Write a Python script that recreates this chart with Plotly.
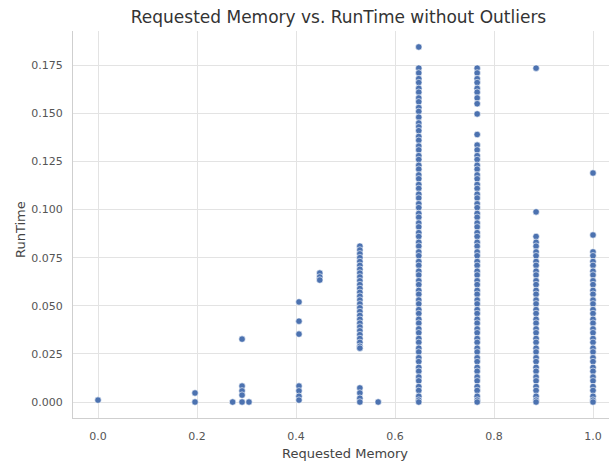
import plotly.graph_objects as go

# Requested memory levels (x) and the runtimes observed at each level (y)
mem_000 = [0.0]
rt_000 = [0.001]

mem_019 = [0.196, 0.196]
rt_019 = [0.0047, 0.0]

mem_027 = [0.272]
rt_027 = [0.0]

mem_029 = [0.291, 0.291, 0.291, 0.291, 0.291]
rt_029 = [0.0327, 0.0083, 0.0058, 0.0036, 0.0]

mem_031 = [0.305]
rt_031 = [0.0]

mem_041 = [0.406] * 7
rt_041 = [0.052, 0.042, 0.0353, 0.0083, 0.0058, 0.003, 0.001]

mem_045 = [0.448] * 3
rt_045 = [0.067, 0.065, 0.0634]

rt_053 = [0.081, 0.079, 0.077, 0.075, 0.073, 0.071, 0.069, 0.067, 0.065, 0.063,
          0.061, 0.059, 0.057, 0.055, 0.053, 0.051, 0.049, 0.047, 0.045, 0.043,
          0.041, 0.039, 0.037, 0.035, 0.033, 0.031, 0.029, 0.028,
          0.0073, 0.0047, 0.002, 0.0]
mem_053 = [0.529] * len(rt_053)

mem_057 = [0.566]
rt_057 = [0.0]

rt_065 = [0.1845, 0.1735, 0.171, 0.168, 0.166, 0.163, 0.161, 0.158, 0.156, 0.153,
          0.151, 0.148, 0.145, 0.143, 0.141, 0.138, 0.136, 0.133, 0.131, 0.128,
          0.126, 0.123, 0.121, 0.118, 0.116, 0.113, 0.111, 0.108, 0.106, 0.103,
          0.101, 0.098, 0.096, 0.093, 0.091, 0.088, 0.086, 0.083, 0.081, 0.078,
          0.076, 0.073, 0.071, 0.068, 0.066, 0.063, 0.061, 0.058, 0.056, 0.053,
          0.051, 0.048, 0.046, 0.043, 0.041, 0.038, 0.036, 0.033, 0.031, 0.028,
          0.026, 0.023, 0.021, 0.018, 0.016, 0.013, 0.011, 0.008, 0.006, 0.003,
          0.001, 0.0]
mem_065 = [0.648] * len(rt_065)

rt_077 = [0.1735, 0.171, 0.168, 0.166, 0.163, 0.161, 0.158, 0.155, 0.1497, 0.139,
          0.1335, 0.131, 0.128, 0.126, 0.123, 0.121, 0.118, 0.116, 0.113, 0.111,
          0.108, 0.106, 0.103, 0.101, 0.098, 0.096, 0.093, 0.091, 0.088, 0.086,
          0.083, 0.081, 0.078, 0.076, 0.073, 0.071, 0.068, 0.066, 0.063, 0.061,
          0.058, 0.056, 0.053, 0.051, 0.048, 0.046, 0.043, 0.041, 0.038, 0.036,
          0.033, 0.031, 0.028, 0.026, 0.023, 0.021, 0.018, 0.016, 0.013, 0.011,
          0.008, 0.006, 0.003, 0.001, 0.0]
mem_077 = [0.766] * len(rt_077)

rt_088 = [0.1735, 0.0988, 0.086, 0.083, 0.081, 0.078, 0.076, 0.073, 0.071, 0.068,
          0.066, 0.063, 0.061, 0.058, 0.056, 0.053, 0.051, 0.048, 0.046, 0.043,
          0.041, 0.038, 0.036, 0.033, 0.031, 0.028, 0.026, 0.023, 0.021, 0.018,
          0.016, 0.013, 0.011, 0.008, 0.006, 0.003, 0.001, 0.0]
mem_088 = [0.885] * len(rt_088)

rt_100 = [0.119, 0.0868, 0.078, 0.076, 0.073, 0.071, 0.068, 0.066, 0.063, 0.061,
          0.058, 0.056, 0.053, 0.051, 0.048, 0.046, 0.043, 0.041, 0.038, 0.036,
          0.033, 0.031, 0.028, 0.026, 0.023, 0.021, 0.018, 0.016, 0.013, 0.011,
          0.008, 0.006, 0.003, 0.001, 0.0]
mem_100 = [1.0] * len(rt_100)

x_ticks = [0.0, 0.2, 0.4, 0.6, 0.8, 1.0]
y_ticks = [0.0, 0.025, 0.05, 0.075, 0.1, 0.125, 0.15, 0.175]

x_all = (mem_000 + mem_019 + mem_027 + mem_029 + mem_031 + mem_041 + mem_045 +
         mem_053 + mem_057 + mem_065 + mem_077 + mem_088 + mem_100)
y_all = (rt_000 + rt_019 + rt_027 + rt_029 + rt_031 + rt_041 + rt_045 +
         rt_053 + rt_057 + rt_065 + rt_077 + rt_088 + rt_100)

fig = go.Figure(go.Scatter(
    x=x_all, y=y_all, mode="markers",
    marker=dict(size=6.5, color="#4C72B0", line=dict(color="white", width=0.6)),
    showlegend=False, cliponaxis=True, hoverinfo="skip",
))

font_family = "DejaVu Sans"
L, R, T, B = 73, 0, 31, 43
W, H = 609, 461
pw, ph = W - L - R, H - T - B

def px_x(p):
    return (p - L) / pw

def px_y(p):
    return (H - B - p) / ph

fig.update_layout(
    width=W, height=H,
    margin=dict(l=L, r=R, t=T, b=B),
    paper_bgcolor="white", plot_bgcolor="white",
    font=dict(family=font_family, color="#333333"),
    title=dict(text="Requested Memory vs. RunTime without Outliers",
               x=338.5 / W, xanchor="center", y=1 - 17 / H, yanchor="middle",
               font=dict(size=17, color="#333333")),
    annotations=[
        dict(text="Requested Memory", xref="paper", yref="paper",
             x=px_x(345), y=px_y(453), xanchor="center", yanchor="middle",
             showarrow=False, font=dict(size=13, color="#444444")),
        dict(text="RunTime", xref="paper", yref="paper",
             x=px_x(20), y=px_y(230), xanchor="center", yanchor="middle",
             textangle=-90, showarrow=False, font=dict(size=13, color="#444444")),
    ],
)
fig.update_xaxes(
    range=[-0.0505, 1.0323], tickvals=x_ticks, tickformat=".1f", automargin=False,
    showgrid=True, gridcolor="#E3E3E3", gridwidth=1, zeroline=False,
    showline=True, linecolor="#CFCFCF", linewidth=1,
    ticks="outside", ticklen=8, tickcolor="rgba(0,0,0,0)",
    tickfont=dict(size=11, color="#555555"),
)
fig.update_yaxes(
    range=[-0.0083, 0.1928], tickvals=y_ticks, tickformat=".3f", automargin=False,
    showgrid=True, gridcolor="#E3E3E3", gridwidth=1, zeroline=False,
    showline=True, linecolor="#CFCFCF", linewidth=1,
    ticks="outside", ticklen=7, tickcolor="rgba(0,0,0,0)",
    tickfont=dict(size=11, color="#555555"),
)

fig.write_html(
    "out.html",
    config={"displayModeBar": False},
    post_script="document.body.style.margin='0px';document.body.style.overflow='hidden';",
)
